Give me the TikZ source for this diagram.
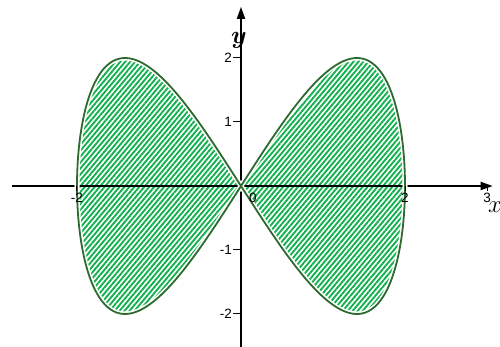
\documentclass[tikz,border=0pt]{standalone}
\usepackage{amsmath,amssymb,bm}
\usepackage{fontspec}
\setmainfont{Liberation Sans}
\usetikzlibrary{patterns.meta,arrows.meta}
\definecolor{hatchgreen}{HTML}{12B04F}
\definecolor{curvegreen}{HTML}{2E6B2E}
\begin{document}
\begin{tikzpicture}[x=82pt,y=64pt,
  axis/.style={line width=1.8pt,black,-{Triangle[length=12pt,width=8pt]}},
  tick/.style={line width=1pt,black},
  ticklabel/.style={font=\fontsize{13.5}{13.5}\selectfont,inner sep=1pt},
  axislabel/.style={font=\fontsize{28}{28}\selectfont,inner sep=0pt}]
\useasboundingbox[fill=white] (-241pt,-161pt) rectangle (259pt,186pt);
% hatched region
\fill[pattern={Lines[angle=50,distance=3.8pt,line width=1.9pt]},pattern color=hatchgreen]
  plot[domain=0:360,samples=241,smooth] ({2*sin(\x)},{2*sin(2*\x)}) -- cycle;
% axes
\coordinate (xs) at (-2.79,0);
\coordinate (xe) at (3.07,0);
\coordinate (ys) at (0,-2.6);
\coordinate (ye) at (0,2.8);
\draw[axis] (xs) -- (xe);
\draw[axis] (ys) -- (ye);
% curve
\draw[white,line width=5pt] plot[domain=0:360,samples=241,smooth] ({2*sin(\x)},{2*sin(2*\x)}) -- cycle;
\draw[curvegreen,line width=1.8pt] plot[domain=0:360,samples=241,smooth] ({2*sin(\x)},{2*sin(2*\x)}) -- cycle;
% ticks y
\foreach \v/\t in {2/2,1/1,-1/-1,-2/-2}{
  \draw[tick] (-8pt,\v) -- (0,\v);
  \node[ticklabel,anchor=east] (yt\v) at (-8pt,\v) {\t};
}
% ticks x
\foreach \v/\t in {-2/-2,2/2,3/3}{
  \draw[tick] (\v,0) -- ++(0,-5pt);
  \node[ticklabel,anchor=north] (xt\v) at (\v,-6pt) {\t};
}
\node[ticklabel,anchor=north] (xt0) at (12pt,-6pt) {0};
\node[axislabel] (ylab) at (-2pt,146pt) {$\bm{y}$};
\node[axislabel] (xlab) at (254pt,-21pt) {$x$};
\end{tikzpicture}
\end{document}
